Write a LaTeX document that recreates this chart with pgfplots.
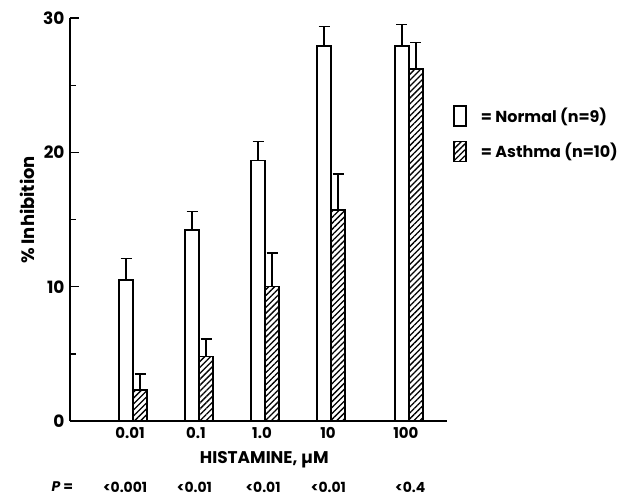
\documentclass[border=0pt]{standalone}
\usepackage{fontspec}
\setmainfont{Poppins}
\usepackage{pgfplots}
\usepackage{pgfplotstable}
\pgfplotsset{compat=1.18}
\usetikzlibrary{patterns.meta}

% x: dose group position, y: % inhibition, e: upper error (SEM)
\pgfplotstableread{
x y e
0 10.5 1.6
1 14.2 1.4
2 19.4 1.4
3 27.9 1.5
4.18 27.9 1.6
}\normaldata
\pgfplotstableread{
x y e
0 2.3 1.2
1 4.8 1.3
2 10.0 2.5
3 15.7 2.7
4.18 26.2 2.0
}\asthmadata

\begin{document}
\begin{tikzpicture}
\useasboundingbox (-70bp,-75bp) rectangle (557bp,421bp);
\begin{axis}[
    x=66bp, y=13.43bp,
    xmin=-0.955, xmax=4.76,
    ymin=0, ymax=30,
    ybar=0pt, bar width=14bp,
    clip=false,
    axis lines*=left,
    axis line style={line width=1.6bp},
    every tick/.style={line width=1.4bp, black},
    tick align=inside,
    major tick length=9bp,
    minor tick length=6bp,
    ytick={0,10,20,30},
    minor ytick={5,15,25},
    xtick={0,1,2,3,4.18},
    xticklabels={0.01,0.1,1.0,10,100},
    major x tick style={draw=none},
    /pgf/number format/assume math mode=true,
    yticklabel style={font=\fontsize{17}{20}\selectfont\bfseries, xshift=-2bp},
    xticklabel style={font=\fontsize{15}{18}\selectfont\bfseries, yshift=-3bp, xshift=-3bp},
    ylabel={\% Inhibition},
    ylabel style={font=\fontsize{18}{22}\selectfont\bfseries, at={(axis description cs:-0.112,0.524)}, anchor=center},
    xlabel={HISTAMINE, µM},
    xlabel style={font=\fontsize{17}{20}\selectfont\bfseries, at={(axis description cs:0.515,0)}, yshift=-39bp, anchor=center},
    legend style={draw=none, fill=none, at={(rel axis cs:1.008,0.79)}, anchor=north west,
        font=\fontsize{16}{19}\selectfont\bfseries, row sep=14bp,
        /tikz/every odd column/.append style={column sep=12bp}},
    legend cell align=left,
    legend image code/.code={\draw[#1] (0bp,-10bp) rectangle (12bp,10bp);},
    error bars/error bar style={line width=1.3bp, black},
    error bars/error mark options={line width=1.3bp, mark size=5.5bp, black, rotate=90},
]
\addplot[fill=white, draw=black, line width=1.6bp,
    error bars/.cd, y dir=plus, y explicit]
    table[x=x, y=y, y error=e] {\normaldata};
\addlegendentry{= Normal (n=9)}
\addplot[fill=white, draw=black, line width=1.6bp,
    postaction={pattern={Lines[angle=45, distance=4.2bp, line width=1.3bp]}},
    error bars/.cd, y dir=plus, y explicit]
    table[x=x, y=y, y error=e] {\asthmadata};
\addlegendentry{= Asthma (n=10)}
\node[font=\fontsize{14}{17}\selectfont\bfseries] at (axis cs:-1.07,0) [yshift=-66bp] {\textit{P} =};
\node[font=\fontsize{14}{17}\selectfont\bfseries] at (axis cs:-0.12,0) [yshift=-66bp] {<0.001};
\node[font=\fontsize{14}{17}\selectfont\bfseries] at (axis cs:0.93,0) [yshift=-66bp] {<0.01};
\node[font=\fontsize{14}{17}\selectfont\bfseries] at (axis cs:1.97,0) [yshift=-66bp] {<0.01};
\node[font=\fontsize{14}{17}\selectfont\bfseries] at (axis cs:2.96,0) [yshift=-66bp] {<0.01};
\node[font=\fontsize{14}{17}\selectfont\bfseries] at (axis cs:4.2,0) [yshift=-66bp] {<0.4};
\end{axis}
\end{tikzpicture}
\end{document}
